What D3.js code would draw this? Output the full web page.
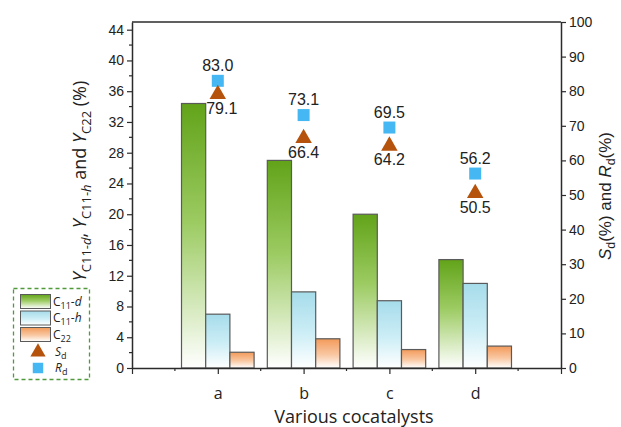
<!DOCTYPE html>
<html>
<head>
<meta charset="utf-8">
<script src="https://cdn.jsdelivr.net/npm/d3@7"></script>
<style>
  html, body { margin: 0; padding: 0; background: #fff; }
  svg { display: block; }
</style>
</head>
<body>
<svg id="chart" width="621" height="427"></svg>
<script>
// Catalyst categories and yields (%)
const categories = ["a", "b", "c", "d"];
const yieldC11d = [34.4, 27.0, 20.0, 14.1];
const yieldC11h = [7.0, 9.9, 8.75, 11.0];
const yieldC22  = [2.05, 3.8, 2.4, 2.85];
// Selectivity and ratio (%) on the right axis
const selectivitySd = [79.1, 66.4, 64.2, 50.5];
const ratioRd       = [83.0, 73.1, 69.5, 56.2];
// Tick values
const leftTicks  = [0, 4, 8, 12, 16, 20, 24, 28, 32, 36, 40, 44];
const rightTicks = [0, 10, 20, 30, 40, 50, 60, 70, 80, 90, 100];

const svg = d3.select("#chart");
const W = 621, H = 427;
const m = { left: 132, right: 561, top: 22, bottom: 368 };

const x  = d3.scaleLinear().domain([0, 5]).range([m.left, m.right]);
const yL = d3.scaleLinear().domain([0, 45]).range([m.bottom, m.top]);
const yR = d3.scaleLinear().domain([0, 100]).range([m.bottom, m.top]);

const axisColor = "#2b2b2b";
const tickFont = "'Liberation Sans', Arial, sans-serif";
const titleFont = "'Open Sans', 'Noto Sans', sans-serif";

// Vertical gradients for the three bar series
const defs = svg.append("defs");
const gradients = [
  { id: "gGreen",  stops: [["0%", "#62a319"], ["45%", "#9ccb62"], ["100%", "#ffffff"]] },
  { id: "gBlue",   stops: [["0%", "#a6dcea"], ["55%", "#cdeef6"], ["100%", "#ffffff"]] },
  { id: "gOrange", stops: [["0%", "#f39a5a"], ["55%", "#f9c8a3"], ["100%", "#ffffff"]] }
];
gradients.forEach(g => {
  const lg = defs.append("linearGradient").attr("id", g.id)
    .attr("x1", 0).attr("y1", 0).attr("x2", 0).attr("y2", 1);
  g.stops.forEach(s => lg.append("stop").attr("offset", s[0]).attr("stop-color", s[1]));
});

// Bars
const barW = x(0.282) - x(0);
const series = [
  { values: yieldC11d, fill: "url(#gGreen)",  off: -1 },
  { values: yieldC11h, fill: "url(#gBlue)",   off: 0 },
  { values: yieldC22,  fill: "url(#gOrange)", off: 1 }
];
series.forEach(s => {
  svg.append("g").selectAll("rect")
    .data(s.values)
    .join("rect")
    .attr("x", (d, i) => x(i + 1) + (s.off - 0.5) * barW)
    .attr("y", d => yL(d))
    .attr("width", barW)
    .attr("height", d => yL(0) - yL(d))
    .attr("fill", s.fill)
    .attr("stroke", "#5a5a5a")
    .attr("stroke-width", 1.2);
});

// Frame top line
svg.append("line")
  .attr("x1", m.left).attr("x2", m.right)
  .attr("y1", m.top).attr("y2", m.top)
  .attr("stroke", axisColor).attr("stroke-width", 1.5);

// Left axis
const gL = svg.append("g").attr("transform", `translate(${m.left},0)`)
  .call(d3.axisLeft(yL).tickValues(leftTicks).tickSize(5).tickPadding(3).tickSizeOuter(0));
gL.append("g").selectAll("line")
  .data(d3.range(2, 45, 4))
  .join("line")
  .attr("x1", 0).attr("x2", -3)
  .attr("y1", d => yL(d)).attr("y2", d => yL(d))
  .attr("stroke", axisColor).attr("stroke-width", 1.2);

// Right axis
const gR = svg.append("g").attr("transform", `translate(${m.right},0)`)
  .call(d3.axisRight(yR).tickValues(rightTicks).tickSize(5).tickPadding(3).tickSizeOuter(0));

// Bottom axis
const gB = svg.append("g").attr("transform", `translate(0,${m.bottom})`)
  .call(d3.axisBottom(x).tickValues([0, 1, 2, 3, 4, 5]).tickSize(6).tickSizeOuter(0)
    .tickFormat(d => (d >= 1 && d <= 4) ? categories[d - 1] : ""));
gB.append("g").selectAll("line")
  .data([0.5, 1.5, 2.5, 3.5, 4.5])
  .join("line")
  .attr("x1", d => x(d)).attr("x2", d => x(d))
  .attr("y1", 0).attr("y2", 3)
  .attr("stroke", axisColor).attr("stroke-width", 1.2);

[gL, gR, gB].forEach(g => {
  g.select(".domain").attr("stroke", axisColor).attr("stroke-width", 1.5);
  g.selectAll(".tick line").attr("stroke", axisColor).attr("stroke-width", 1.2);
});
[gL, gR].forEach(g => {
  g.selectAll(".tick text").attr("font-family", tickFont).attr("font-size", 14).attr("fill", "#222");
});
gB.selectAll(".tick text")
  .attr("font-family", titleFont).attr("font-size", 16).attr("fill", "#222").attr("dy", "1.35em");

// Markers
const triPath = d3.symbol().type(d3.symbolTriangle).size(118)();
const sqPath  = d3.symbol().type(d3.symbolSquare).size(144)();

svg.append("g").selectAll("path")
  .data(ratioRd)
  .join("path")
  .attr("d", sqPath)
  .attr("transform", (d, i) => `translate(${x(i + 1)},${yR(d)})`)
  .attr("fill", "#45b8f3");

svg.append("g").selectAll("path")
  .data(selectivitySd)
  .join("path")
  .attr("d", triPath)
  .attr("transform", (d, i) => `translate(${x(i + 1)},${yR(d)})`)
  .attr("fill", "#b5530c");

// Value labels
svg.append("g").selectAll("text")
  .data(ratioRd)
  .join("text")
  .attr("x", (d, i) => x(i + 1))
  .attr("y", d => yR(d) - 10)
  .attr("text-anchor", "middle")
  .attr("font-family", tickFont).attr("font-size", 16).attr("fill", "#222")
  .text(d => d.toFixed(1));

svg.append("g").selectAll("text")
  .data(selectivitySd)
  .join("text")
  .attr("x", (d, i) => x(i + 1) + (i === 0 ? 4 : 0))
  .attr("y", d => yR(d) + 19.5)
  .attr("text-anchor", "middle")
  .attr("font-family", tickFont).attr("font-size", 16).attr("fill", "#222")
  .text(d => d.toFixed(1));

// Axis titles
svg.append("text")
  .attr("x", 354).attr("y", 423)
  .attr("text-anchor", "middle")
  .attr("font-family", titleFont).attr("font-size", 18).attr("fill", "#222")
  .text("Various cocatalysts");

function subTitle(g, parts, size) {
  const t = g.append("text").attr("text-anchor", "middle")
    .attr("font-size", size).attr("fill", "#222");
  parts.forEach(p => {
    const ts = t.append("tspan").text(p.t);
    if (p.i) ts.attr("font-style", "italic");
    if (p.sub) ts.attr("font-size", size * 0.72).attr("dy", p.dy);
    else if (p.dy) ts.attr("dy", p.dy);
  });
  return t;
}

const lt = svg.append("g").attr("transform", "translate(86,181) rotate(-90)")
  .attr("font-family", titleFont);
subTitle(lt, [
  { t: "Y", i: true },
  { t: "C11-", sub: true, dy: 5 },
  { t: "d", sub: true, i: true },
  { t: ", ", dy: -5 },
  { t: "Y", i: true },
  { t: "C11-", sub: true, dy: 5 },
  { t: "h", sub: true, i: true },
  { t: " and ", dy: -5 },
  { t: "Y", i: true },
  { t: "C22", sub: true, dy: 5 },
  { t: " (%)", dy: -5 }
], 18);

const rt = svg.append("g").attr("transform", "translate(611,196) rotate(-90)")
  .attr("font-family", tickFont);
subTitle(rt, [
  { t: "S", i: true },
  { t: "d", sub: true, dy: 4 },
  { t: "(%) and ", dy: -4 },
  { t: "R", i: true },
  { t: "d", sub: true, dy: 4 },
  { t: "(%)", dy: -4 }
], 17);

// Legend
const lg = svg.append("g");
lg.append("rect")
  .attr("x", 13.5).attr("y", 288.5).attr("width", 76).attr("height", 91)
  .attr("fill", "#fff").attr("stroke", "#4f9a3a").attr("stroke-width", 1.3)
  .attr("stroke-dasharray", "4,3");

const legendBars = [
  { fill: "url(#gGreen)",  parts: [["C", false, false], ["11", true, false], ["-", false, false], ["d", false, true]] },
  { fill: "url(#gBlue)",   parts: [["C", false, false], ["11", true, false], ["-", false, false], ["h", false, true]] },
  { fill: "url(#gOrange)", parts: [["C", false, false], ["22", true, false]] }
];
legendBars.forEach((b, i) => {
  const y0 = 294.5 + i * 16.5;
  lg.append("rect").attr("x", 20.5).attr("y", y0).attr("width", 30).attr("height", 14)
    .attr("fill", b.fill).attr("stroke", "#5a5a5a").attr("stroke-width", 1);
  const t = lg.append("text").attr("x", 53).attr("y", y0 + 11)
    .attr("font-family", titleFont).attr("font-size", 12).attr("fill", "#222");
  let down = false;
  b.parts.forEach(p => {
    const ts = t.append("tspan").text(p[0]);
    if (p[1] && !down) { ts.attr("font-size", 9).attr("dy", 3); down = true; }
    else if (!p[1] && down) { ts.attr("dy", -3); down = false; }
    if (p[2]) ts.attr("font-style", "italic");
  });
});

lg.append("path").attr("d", d3.symbol().type(d3.symbolTriangle).size(100)())
  .attr("transform", "translate(38,352)").attr("fill", "#b5530c");
lg.append("path").attr("d", d3.symbol().type(d3.symbolSquare).size(110)())
  .attr("transform", "translate(38,368)").attr("fill", "#45b8f3");

[["S", 356], ["R", 372]].forEach(([s, yy]) => {
  const t = lg.append("text").attr("x", 55).attr("y", yy)
    .attr("font-family", titleFont).attr("font-size", 12).attr("fill", "#222");
  t.append("tspan").attr("font-style", "italic").text(s);
  t.append("tspan").attr("font-size", 9).attr("dy", 3).text("d");
});
</script>
</body>
</html>
